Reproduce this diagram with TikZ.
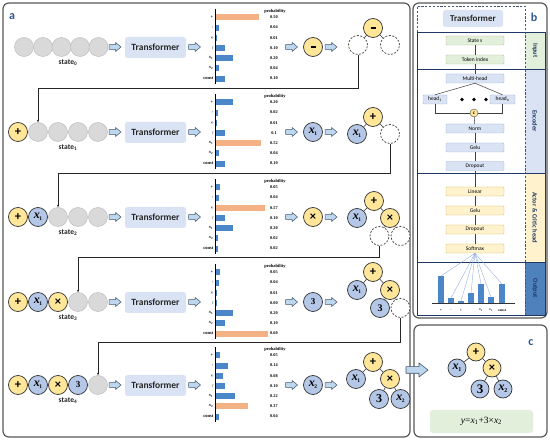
\documentclass[tikz,border=0pt]{standalone}
\usepackage{fontspec}
\setmainfont{Carlito}
\newfontfamily\srf{Liberation Serif}
\usetikzlibrary{arrows.meta,calc}
\definecolor{gfill}{HTML}{D9D9D9}
\definecolor{gline}{HTML}{BFBFBF}
\definecolor{yfill}{HTML}{FFE699}
\definecolor{bfill}{HTML}{B4C7E7}
\definecolor{tfill}{HTML}{DAE3F3}
\definecolor{afill}{HTML}{BDD7EE}
\definecolor{aline}{HTML}{44546A}
\definecolor{barb}{HTML}{4A86C8}
\definecolor{baro}{HTML}{F4B183}
\definecolor{navy}{HTML}{1F3864}
\definecolor{lblue}{HTML}{2E5597}
\definecolor{framec}{HTML}{595959}
\definecolor{ingreen}{HTML}{E2EFDA}
\definecolor{ingline}{HTML}{A9C08F}
\definecolor{encb}{HTML}{DAE3F3}
\definecolor{encline}{HTML}{9DB3D6}
\definecolor{acty}{HTML}{FFF2CC}
\definecolor{actline}{HTML}{D6B656}
\definecolor{outb}{HTML}{4F81BD}
\definecolor{sline}{HTML}{8FAADC}
\newcommand\xv[1]{{\srf\bfseries\itshape x}\kern-0.3pt{\srf\bfseries\fontsize{5.5}{5.5}\selectfont\raisebox{-2pt}{#1}}}
\newcommand\xvb[1]{{\srf\bfseries\itshape x}\kern-0.3pt{\srf\bfseries\fontsize{6}{6}\selectfont\raisebox{-2.2pt}{#1}}}
\newcommand\mn{\rule{5pt}{1.5pt}}
\tikzset{
  gc/.style={circle, draw=gline, fill=gfill, line width=0.5pt, minimum size=19pt, inner sep=0pt},
  yc/.style={circle, draw=black!80, line width=0.7pt, fill=yfill, minimum size=19pt, inner sep=0pt, font=\bfseries\fontsize{12.5}{12.5}\selectfont},
  bc/.style={circle, draw=black!80, line width=0.7pt, fill=bfill, minimum size=19pt, inner sep=0pt, font=\fontsize{12}{12}\selectfont},
  dc/.style={circle, draw=black!75, dash pattern=on 2pt off 1.5pt, line width=0.7pt, fill=white, minimum size=19pt, inner sep=0pt},
  tbox/.style={rounded corners=2.5pt, fill=tfill, minimum width=61pt, minimum height=21pt, inner sep=0pt, text=black!85, font=\bfseries\fontsize{9.5}{10}\selectfont},
  statel/.style={inner sep=0pt, font=\bfseries\fontsize{7.5}{8}\selectfont, text=black!85},
  edge/.style={draw=black!80, line width=0.6pt},
  conn/.style={draw=black!85, line width=0.6pt, -{Stealth[length=2.5pt,width=2.2pt]}},
  axisl/.style={draw=black, line width=0.6pt},
  probl/.style={inner sep=0pt, font=\srf\bfseries\fontsize{4.5}{5}\selectfont},
  vall/.style={inner sep=0pt, font=\srf\bfseries\fontsize{4.3}{5}\selectfont},
  tokl/.style={inner sep=0pt, anchor=east, font=\srf\bfseries\fontsize{4.5}{5}\selectfont},
  panlab/.style={inner sep=0pt, text=lblue, font=\bfseries\fontsize{12}{12}\selectfont},
  bxg/.style={draw=ingline, fill=ingreen, line width=0.4pt, minimum width=58pt, minimum height=9pt, inner sep=0pt, rounded corners=0.8pt, font=\fontsize{5.5}{5.5}\selectfont},
  bxb/.style={bxg, draw=encline, fill=encb},
  bxy/.style={bxg, draw=actline, fill=acty},
  bline/.style={draw=black!75, line width=0.5pt},
  striplab/.style={inner sep=0pt, text=navy, font=\bfseries\fontsize{6.5}{7}\selectfont},
  dotn/.style={circle, fill=black, minimum size=3.6pt, inner sep=0pt},
  panelframe/.style={draw=framec, line width=1.2pt, rounded corners=6pt},
  harrow/.pic={\draw[aline, fill=afill, line width=0.5pt, line join=round] (-6,-2.3) -- (0.5,-2.3) -- (0.5,-4.6) -- (6,0) -- (0.5,4.6) -- (0.5,2.3) -- (-6,2.3) -- cycle;},
  bigarrow/.pic={\draw[aline, fill=afill, line width=0.6pt, line join=round] (-11,-3.3) -- (2,-3.3) -- (2,-7) -- (11,0) -- (2,7) -- (2,3.3) -- (-11,3.3) -- cycle;}
}
\newcommand\pchart[3]{%
  \draw[axisl] (215,#1-38) -- (215,#1+37);
  \node[probl] (ph#1) at (275,#1-36) {probability};
  \foreach \v [count=\i] in {#2}{%
    \pgfmathsetmacro\yy{#1+1-30.6+10.2*(\i-1)}%
    \pgfmathsetmacro\ww{max(\v*86,0.5)}%
    \ifnum\i=#3\relax\def\barcol{baro}\else\def\barcol{barb}\fi
    \fill[\barcol] (216,\yy-3) rectangle ++(\ww,6);
    \node[vall] (pv#1n\i) at (274,\yy) {\v};
  }%
  \foreach \t [count=\i] in {+,-,×,/,{{\itshape x}\textsubscript{1}},{{\itshape x}\textsubscript{2}},const}{%
    \pgfmathsetmacro\yy{#1+1-30.6+10.2*(\i-1)}%
    \node[tokl] (pt#1n\i) at (213.5,\yy) {\t};
  }%
}
\begin{document}
\begin{tikzpicture}[x=1pt,y=-1pt]
\useasboundingbox (0,0) rectangle (550,441);
\fill[white] (0,0) rectangle (550,441);

% ---------- panel a ----------
\draw[panelframe] (3,3) rectangle (410,437);
\node[panlab] (la) at (12,17) {a};

% row 0
\node[gc] (s0a) at (24,47) {};
\node[gc] (s0b) at (43,47) {};
\node[gc] (s0c) at (61.5,47) {};
\node[gc] (s0d) at (80,47) {};
\node[gc] (s0e) at (98.5,47) {};
\node[statel] (st0) at (68,63) {state\textsubscript{0}};
\pic (a0a) at (115,47) {harrow};
\node[tbox] (t0) at (155.5,47.5) {Transformer};
\pic (a0b) at (194.5,47) {harrow};
\pchart{47}{0.50,0.04,0.01,0.10,0.20,0.04,0.10}{1}
\pic (a0c) at (291.5,47) {harrow};
\node[yc] (c0) at (313,47) {\mn};
\pic (a0d) at (331,47) {harrow};
\node[yc] (r0root) at (373,28) {\mn};
\node[dc] (r0l) at (358,45) {};
\node[dc] (r0r) at (390,45) {};
\draw[edge] (r0root) -- (r0l);
\draw[edge] (r0root) -- (r0r);

% row 1
\node[yc] (s1a) at (18,132) {+};
\node[gc] (s1b) at (38,132) {};
\node[gc] (s1c) at (58,132) {};
\node[gc] (s1d) at (78,132) {};
\node[gc] (s1e) at (98,132) {};
\node[statel] (st1) at (68,148) {state\textsubscript{1}};
\pic (a1a) at (115,132) {harrow};
\node[tbox] (t1) at (155.5,132.5) {Transformer};
\pic (a1b) at (194.5,132) {harrow};
\pchart{132}{0.20,0.02,0.01,0.1,0.52,0.04,0.10}{5}
\pic (a1c) at (291.5,132) {harrow};
\node[bc] (c1) at (313,132) {\xv{1}};
\pic (a1d) at (331,132) {harrow};
\node[yc] (r1root) at (373,117) {+};
\node[bc] (r1l) at (357,134) {\xv{1}};
\node[dc] (r1r) at (390,134) {};
\draw[edge] (r1root) -- (r1l);
\draw[edge] (r1root) -- (r1r);

% row 2
\node[yc] (s2a) at (18,217) {+};
\node[bc] (s2b) at (38,217) {\xv{1}};
\node[gc] (s2c) at (58,217) {};
\node[gc] (s2d) at (78,217) {};
\node[gc] (s2e) at (98,217) {};
\node[statel] (st2) at (68,233) {state\textsubscript{2}};
\pic (a2a) at (115,217) {harrow};
\node[tbox] (t2) at (155.5,217.5) {Transformer};
\pic (a2b) at (194.5,217) {harrow};
\pchart{217}{0.05,0.04,0.57,0.10,0.20,0.02,0.02}{3}
\pic (a2c) at (291.5,217) {harrow};
\node[yc] (c2) at (313,217) {×};
\pic (a2d) at (331,217) {harrow};
\node[yc] (r2root) at (374,201) {+};
\node[bc] (r2l) at (357,218) {\xv{1}};
\node[yc] (r2r) at (390,218) {×};
\node[dc] (r2dl) at (379.5,236) {};
\node[dc] (r2dr) at (400.5,236) {};
\draw[edge] (r2root) -- (r2l);
\draw[edge] (r2root) -- (r2r);
\draw[edge] (r2r) -- (r2dl);
\draw[edge] (r2r) -- (r2dr);

% row 3
\node[yc] (s3a) at (18,302) {+};
\node[bc] (s3b) at (38,302) {\xv{1}};
\node[yc] (s3c) at (58,302) {×};
\node[gc] (s3d) at (78,302) {};
\node[gc] (s3e) at (98,302) {};
\node[statel] (st3) at (68,318) {state\textsubscript{3}};
\pic (a3a) at (115,302) {harrow};
\node[tbox] (t3) at (155.5,302.5) {Transformer};
\pic (a3b) at (194.5,302) {harrow};
\pchart{302}{0.05,0.04,0.01,0.00,0.20,0.10,0.60}{7}
\pic (a3c) at (291.5,302) {harrow};
\node[bc, font=\srf\bfseries\fontsize{9}{9}\selectfont] (c3) at (313,302) {3};
\pic (a3d) at (331,302) {harrow};
\node[yc] (r3root) at (373,272) {+};
\node[bc] (r3l) at (357,290) {\xv{1}};
\node[yc] (r3r) at (390,290) {×};
\node[bc, font=\srf\bfseries\fontsize{10}{10}\selectfont] (r3t) at (380,308) {3};
\node[dc] (r3dr) at (400.5,308) {};
\draw[edge] (r3root) -- (r3l);
\draw[edge] (r3root) -- (r3r);
\draw[edge] (r3r) -- (r3t);
\draw[edge] (r3r) -- (r3dr);

% row 4
\node[yc] (s4a) at (18,385) {+};
\node[bc] (s4b) at (38,385) {\xv{1}};
\node[yc] (s4c) at (58,385) {×};
\node[bc, font=\srf\bfseries\fontsize{9}{9}\selectfont] (s4d) at (78,385) {3};
\node[gc] (s4e) at (98,385) {};
\node[statel] (st4) at (68,401) {state\textsubscript{4}};
\pic (a4a) at (115,385) {harrow};
\node[tbox] (t4) at (155.5,385.5) {Transformer};
\pic (a4b) at (194.5,385) {harrow};
\pchart{385}{0.05,0.14,0.08,0.10,0.22,0.37,0.04}{6}
\pic (a4c) at (291.5,385) {harrow};
\node[bc] (c4) at (313,385) {\xv{2}};
\pic (a4d) at (331,385) {harrow};
\node[yc] (r4root) at (373,362) {+};
\node[bc] (r4l) at (356,379) {\xv{1}};
\node[yc] (r4r) at (390,379) {×};
\node[bc, font=\srf\bfseries\fontsize{12}{12}\selectfont] (r4t) at (379,399) {3};
\node[bc] (r4x) at (400.5,399) {\xv{2}};
\draw[edge] (r4root) -- (r4l);
\draw[edge] (r4root) -- (r4r);
\draw[edge] (r4r) -- (r4t);
\draw[edge] (r4r) -- (r4x);

% feedback connectors
\coordinate (k0) at (38,88);
\coordinate (k1) at (58,173);
\coordinate (k2) at (78,257);
\coordinate (k3) at (98,342);
\draw[conn] (r0l.south) |- (k0) -- (s1b.north);
\draw[conn] (r1r.south) |- (k1) -- (s2c.north);
\draw[conn] (r2dl.south) |- (k2) -- (s3d.north);
\draw[conn] (r3dr.south) |- (k3) -- (s4e.north);

% ---------- panel b ----------
\draw[panelframe] (413,3) rectangle (547,318);
\fill[ingreen] (525,32) rectangle (545,69);
\fill[encb] (525,69) rectangle (545,173);
\fill[acty] (525,173) rectangle (545,262);
\fill[outb] (525,262) rectangle (545,315);
\draw[navy, line width=0.9pt] (417,32) rectangle (545,315);
\draw[navy, line width=0.9pt] (417,69) -- (545,69);
\draw[navy, line width=0.9pt] (417,173) -- (545,173);
\draw[navy, line width=0.9pt] (417,262) -- (545,262);
\draw[navy!85, line width=0.7pt, dash pattern=on 2.2pt off 1.6pt] (417,32) -- (417,6) -- (525,6) -- (525,315);
\node[tbox, minimum width=60pt, minimum height=17pt, font=\bfseries\fontsize{9}{9}\selectfont] (tb) at (473,18.5) {Transformer};
\node[panlab] (lb) at (534,17) {b};
\node[striplab, rotate=-90] (lin) at (535,50.5) {Input};
\node[striplab, rotate=-90] (len) at (535,121) {Encoder};
\node[striplab, rotate=-90] (lac) at (535,217.5) {Actor \& Critic head};
\node[striplab, rotate=-90] (lout) at (535,288.5) {Output};

\node[bxg] (ss) at (475,40.5) {State s};
\node[bxg] (ti) at (475,59.5) {Token index};
\node[bxb] (mh) at (475,78.5) {Multi-head};
\node[bxb, minimum width=24pt] (h1) at (435,99.5) {head\textsubscript{1}};
\node[bxb, minimum width=25pt] (hn) at (502.5,99.5) {head\textsubscript{n}};
\node[dotn] (d1) at (462,99.5) {};
\node[dotn] (d2) at (474,99.5) {};
\node[dotn] (d3) at (486,99.5) {};
\node[circle, draw=black!70, fill=yfill, line width=0.4pt, minimum size=8pt, inner sep=0pt, font=\bfseries\fontsize{5}{5}\selectfont] (cc) at (474,113) {c};
\node[bxb] (nm) at (475,128.5) {Norm};
\node[bxb] (g1) at (475,147.5) {Gelu};
\node[bxb] (dr1) at (475,166) {Dropout};
\node[bxy] (ln) at (475,191.5) {Linear};
\node[bxy] (g2) at (475,210.5) {Gelu};
\node[bxy] (dr2) at (475,229.5) {Dropout};
\node[bxy] (sm) at (475,248.5) {Softmax};
\draw[bline] (ss) -- (ti);
\draw[bline] (ti) -- (mh);
\draw[bline] (mh.south) -- (h1.north);
\draw[bline] (mh.south) -- (hn.north);
\draw[bline] (h1.south) |- (cc.west);
\draw[bline] (hn.south) |- (cc.east);
\draw[bline] (cc) -- (nm);
\draw[bline] (nm) -- (g1);
\draw[bline] (g1) -- (dr1);
\draw[bline] (dr1) -- (ln);
\draw[bline] (ln) -- (g2);
\draw[bline] (g2) -- (dr2);
\draw[bline] (dr2) -- (sm);

% output chart
\draw[black!80, line width=0.6pt] (432,303) -- (515,303);
\foreach \bx/\bt/\bl [count=\i] in {441/276/+,451/298/-,461/301/×,471/293//,481/284/{{\itshape x}\textsubscript{1}},491/297/{{\itshape x}\textsubscript{2}},502/284/const}{%
  \fill[barb] (\bx-2.8,\bt) rectangle (\bx+2.8,303);
  \coordinate (ob\i) at (\bx,\bt);
  \draw[sline, line width=0.35pt] (sm.south) -- (ob\i);
  \node[inner sep=0pt, font=\srf\bfseries\fontsize{3.6}{4}\selectfont] (obl\i) at (\bx,310.5) {\bl};
}

% ---------- panel c ----------
\draw[panelframe] (414,325) rectangle (547,437);
\node[panlab] (lc) at (531,343) {c};
\node[yc, minimum size=18pt] (cr) at (476,352) {+};
\node[bc, minimum size=18pt] (cl) at (457,368) {\xvb{1}};
\node[yc, minimum size=18pt] (cm) at (492,368) {×};
\node[bc, minimum size=18pt, font=\srf\bfseries\fontsize{13}{13}\selectfont] (c3t) at (480,389) {3};
\node[bc, minimum size=18pt] (cx) at (503,389) {\xvb{2}};
\draw[edge] (cr) -- (cl);
\draw[edge] (cr) -- (cm);
\draw[edge] (cm) -- (c3t);
\draw[edge] (cm) -- (cx);
\node[fill=ingreen, rounded corners=3pt, minimum width=103pt, minimum height=23pt, inner sep=0pt, font=\srf\fontsize{9.5}{10}\selectfont] (fm) at (481.5,421.5) {\textit{y}=\textit{x}\textsubscript{1}+3×\textit{x}\textsubscript{2}};

\pic (big) at (417,370) {bigarrow};
\end{tikzpicture}
\end{document}
